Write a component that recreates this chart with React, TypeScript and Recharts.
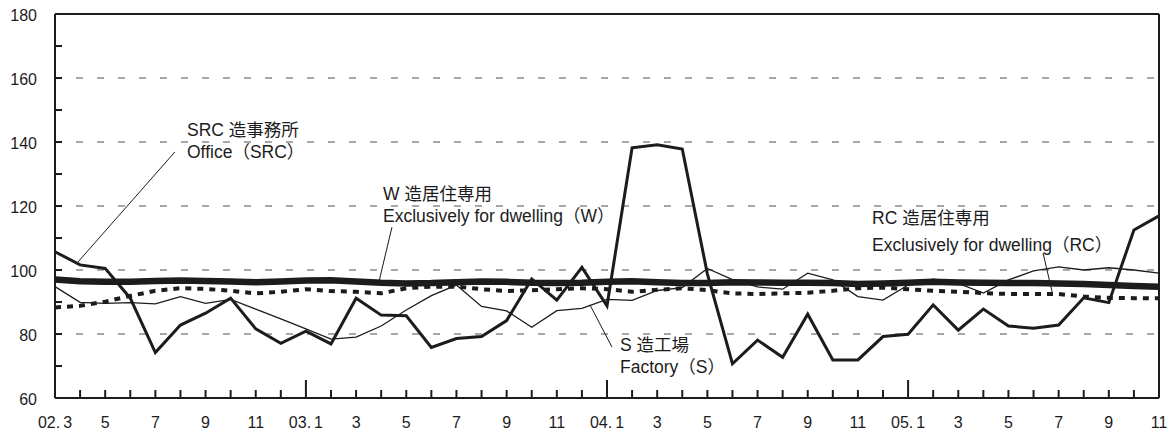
import React from "react";
import { LineChart, Line, XAxis, YAxis, ReferenceLine, CartesianGrid } from "recharts";

const months = [
  "02.3", "02.4", "02.5", "02.6", "02.7", "02.8", "02.9", "02.10", "02.11", "02.12",
  "03.1", "03.2", "03.3", "03.4", "03.5", "03.6", "03.7", "03.8", "03.9", "03.10", "03.11", "03.12",
  "04.1", "04.2", "04.3", "04.4", "04.5", "04.6", "04.7", "04.8", "04.9", "04.10", "04.11", "04.12",
  "05.1", "05.2", "05.3", "05.4", "05.5", "05.6", "05.7", "05.8", "05.9", "05.10", "05.11",
];

const tickLabels = [
  "02.3", "5", "7", "9", "11", "03.1", "3", "5", "7", "9", "11",
  "04.1", "3", "5", "7", "9", "11", "05.1", "3", "5", "7", "9", "11",
];

const yTicks = [60, 70, 80, 90, 100, 110, 120, 130, 140, 150, 160, 170, 180];
const gridValues = [80, 100, 120, 140, 160];

// SRC造事務所 Office (SRC)
const officeSRC = [
  105.7, 101.6, 100.5, 91.2, 74.2, 82.8, 86.5, 91.2, 81.6, 77.1,
  80.9, 76.9, 91.2, 85.9, 85.7, 75.8, 78.6, 79.2, 84.2, 97.2, 90.6, 100.8,
  88.8, 138.2, 139.1, 137.8, 98.8, 70.7, 78.1, 72.7, 86.2, 71.9, 71.9, 79.2,
  79.9, 89.1, 81.2, 87.8, 82.5, 81.8, 82.8, 91.3, 89.8, 112.5, 116.9,
];

// W造居住専用 Exclusively for dwelling (W)
const dwellingW = [
  97.0, 96.5, 96.3, 96.3, 96.6, 96.7, 96.6, 96.4, 96.2, 96.4,
  96.7, 96.8, 96.4, 96.0, 95.8, 95.9, 96.2, 96.4, 96.3, 96.0, 95.9, 96.0,
  96.3, 96.5, 96.2, 95.9, 95.9, 96.2, 96.1, 96.0, 96.0, 95.9, 95.6, 95.8,
  96.0, 96.3, 96.1, 96.0, 95.9, 95.9, 95.8, 95.6, 95.3, 95.0, 94.8,
];

// S造工場 Factory (S)
const factoryS = [
  94.8, 89.9, 89.6, 89.8, 89.4, 91.7, 89.6, 90.8, 87.8, 84.7,
  81.6, 78.4, 79.0, 82.5, 87.5, 92.0, 95.3, 88.6, 87.2, 82.1, 87.3, 88.0,
  90.8, 90.5, 93.6, 94.5, 100.5, 97.0, 94.7, 94.0, 99.0, 96.9, 91.7, 90.6,
  95.3, 97.1, 95.8, 92.8, 96.9, 99.7, 101.0, 100.0, 100.7, 100.0, 99.0,
];

// RC造居住専用 Exclusively for dwelling (RC)
const dwellingRC = [
  88.3, 88.8, 90.1, 91.9, 93.5, 94.3, 94.1, 93.5, 92.7, 93.2,
  94.0, 93.4, 93.2, 92.7, 94.3, 94.8, 94.8, 94.0, 93.4, 93.7, 94.0, 94.3,
  94.0, 93.2, 93.8, 94.3, 93.7, 92.7, 92.5, 92.7, 92.9, 93.5, 94.3, 94.5,
  94.0, 93.5, 93.2, 92.8, 92.5, 92.5, 92.5, 91.7, 91.3, 91.2, 91.2,
];

const data = months.map((m, i) => ({
  i,
  m,
  src: officeSRC[i],
  w: dwellingW[i],
  s: factoryS[i],
  rc: dwellingRC[i],
}));

const xTicks = months.map((_, i) => i);
const lastIndex = months.length - 1;

const FONT = "'Liberation Sans', 'Noto Sans CJK JP', Arial, sans-serif";
const INK = "#1c1c1c";

const YTick = (props: any) => {
  const { x, y, payload } = props;
  const v = payload.value;
  const axisX = x + 18;
  return (
    <g>
      {v > 60 && v < 180 && (
        <line x1={axisX} x2={axisX + 7} y1={y} y2={y} stroke={INK} strokeWidth={2} />
      )}
      {v % 20 === 0 && (
        <text x={x} y={y} dy={6.5} textAnchor="end" fontSize={16} fill={INK} fontFamily={FONT}>
          {v}
        </text>
      )}
    </g>
  );
};

const XTick = (props: any) => {
  const { x, y, payload } = props;
  const i = payload.value as number;
  const isYear = i > 0 && months[i].split(".")[1] === "1";
  const len = isYear ? 18 : 8;
  const label = i % 2 === 0 ? tickLabels[i / 2] : null;
  let content: any = null;
  if (label) {
    const parts = label.split(".");
    content =
      parts.length === 2 ? (
        <>
          {parts[0] + "."}
          <tspan dx={3}>{parts[1]}</tspan>
        </>
      ) : (
        label
      );
  }
  return (
    <g>
      {i > 0 && i < lastIndex && (
        <line x1={x} x2={x} y1={y} y2={y - len} stroke={INK} strokeWidth={2} />
      )}
      {label && (
        <text x={x} y={y + 30} textAnchor="middle" fontSize={16} fill={INK} fontFamily={FONT}>
          {content}
        </text>
      )}
    </g>
  );
};

const leaders = [
  { from: { x: 4.78, y: 136.9 }, to: { x: 0.88, y: 102.2 } },
  { from: { x: 13.43, y: 113.4 }, to: { x: 12.91, y: 96.3 } },
  { from: { x: 22.2, y: 75.9 }, to: { x: 21.32, y: 89.1 } },
  { from: { x: 39.38, y: 105.3 }, to: { x: 39.74, y: 93.1 } },
];

const annotations = [
  { x: 187, y1: 136, y2: 158, l1: "SRC 造事務所", l2: "Office（SRC）" },
  { x: 383, y1: 200, y2: 222, l1: "W 造居住専用", l2: "Exclusively for dwelling（W）" },
  { x: 620, y1: 351, y2: 373, l1: "S 造工場", l2: "Factory（S）" },
  { x: 872, y1: 224, y2: 251, l1: "RC 造居住専用", l2: "Exclusively for dwelling（RC）" },
];

export default function App() {
  return (
    <div style={{ position: "absolute", left: 0, top: 0, width: 1175, height: 437, background: "#fff" }}>
      <LineChart
        width={1175}
        height={437}
        data={data}
        margin={{ top: 14, right: 16, left: 10, bottom: 9 }}
      >
        <CartesianGrid
          vertical={false}
          horizontalValues={gridValues}
          stroke="#8c8c8c"
          strokeWidth={1.5}
          strokeDasharray="7 14"
        />
        <XAxis
          dataKey="i"
          type="number"
          domain={[0, lastIndex]}
          ticks={xTicks}
          interval={0}
          tick={<XTick />}
          tickLine={false}
          tickSize={0}
          tickMargin={0}
          height={30}
          axisLine={{ stroke: INK, strokeWidth: 2 }}
        />
        <YAxis
          type="number"
          domain={[60, 180]}
          ticks={yTicks}
          interval={0}
          tick={<YTick />}
          tickLine={false}
          tickSize={0}
          tickMargin={18}
          width={45}
          axisLine={{ stroke: INK, strokeWidth: 2 }}
        />
        <ReferenceLine y={180} stroke={INK} strokeWidth={2} />
        <ReferenceLine x={lastIndex} stroke={INK} strokeWidth={2} />
        {leaders.map((l, k) => (
          <ReferenceLine
            key={k}
            segment={[l.from, l.to]}
            stroke={INK}
            strokeWidth={1}
            ifOverflow="visible"
          />
        ))}
        <Line dataKey="s" type="linear" stroke={INK} strokeWidth={1.3} dot={false} isAnimationActive={false} />
        <Line dataKey="rc" type="linear" stroke={INK} strokeWidth={4} strokeDasharray="6 6" dot={false} isAnimationActive={false} />
        <Line dataKey="w" type="linear" stroke={INK} strokeWidth={6.5} dot={false} isAnimationActive={false} />
        <Line dataKey="src" type="linear" stroke={INK} strokeWidth={3} dot={false} isAnimationActive={false} />
      </LineChart>
      <svg
        width={1175}
        height={437}
        style={{ position: "absolute", left: 0, top: 0, pointerEvents: "none" }}
      >
        {annotations.map((a, k) => (
          <g key={k} fontFamily={FONT} fontSize={17.5} fill={INK}>
            <text x={a.x} y={a.y1}>{a.l1}</text>
            <text x={a.x} y={a.y2}>{a.l2}</text>
          </g>
        ))}
      </svg>
    </div>
  );
}
